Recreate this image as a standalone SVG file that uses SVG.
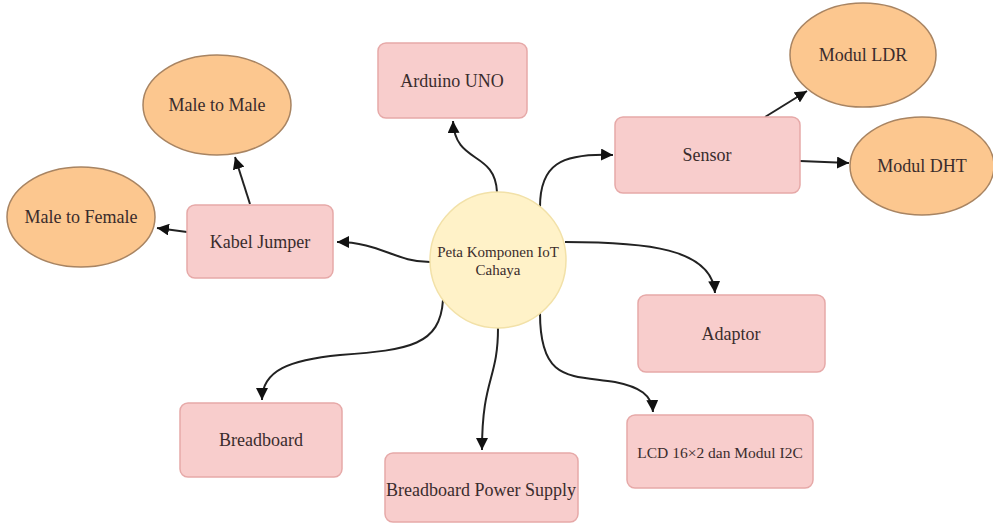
<svg xmlns="http://www.w3.org/2000/svg" width="993" height="527" viewBox="0 0 993 527">
<style>
.box{fill:#f8cdcc;stroke:#e6a9a8;stroke-width:1.5}
.ell{fill:#fcc78f;stroke:#a88462;stroke-width:1.5}
.hub{fill:#fff2c8;stroke:#f2e1a8;stroke-width:1.5}
.t{font-family:"Liberation Serif","Times New Roman",serif;font-size:18px;fill:#3a2c2c;text-anchor:middle;dominant-baseline:central}
.c{fill:none;stroke:#222;stroke-width:2;marker-end:url(#ah)}
</style>
<defs>
<marker id="ah" markerUnits="userSpaceOnUse" markerWidth="12" markerHeight="12" refX="10" refY="5" orient="auto" viewBox="0 0 10 10">
<path d="M0,0 L10,5 L0,10 z" fill="#111"/>
</marker>
</defs>
<rect width="993" height="527" fill="#ffffff"/>
<g id="connectors">
<path class="c" d="M497,192 C495,150 455,165 453,121"/>
<path class="c" d="M540,207 C540,165 560,153 613,155"/>
<path class="c" d="M430,262 C395,262 380,242 337,242"/>
<path class="c" d="M565,242 C645,242 712,248 715,293"/>
<path class="c" d="M540,313 C540,382 570,375 615,382 C640,387 652,395 653,412"/>
<path class="c" d="M498,328 C498,380 482,378 482,450"/>
<path class="c" d="M443,300 C440,345 410,350 340,355 C290,360 262,370 262,400"/>
<path class="c" d="M250,204 L235,157"/>
<path class="c" d="M187,232 L157,228"/>
<path class="c" d="M765,117 L807,91"/>
<path class="c" d="M800,161 L849,163"/>
</g>
<g id="hub">
<circle class="hub" cx="498" cy="260" r="68"/>
<text class="t" style="font-size:15px" x="498" y="252">Peta Komponen IoT</text>
<text class="t" style="font-size:15px" x="498" y="270">Cahaya</text>
</g>
<g id="arduino">
<rect class="box" x="378" y="43" width="149" height="75" rx="8"/>
<text class="t" x="452" y="81">Arduino UNO</text>
</g>
<g id="sensor">
<rect class="box" x="615" y="117" width="185" height="76" rx="8"/>
<text class="t" x="707" y="155">Sensor</text>
</g>
<g id="modul-ldr">
<ellipse class="ell" cx="863" cy="55" rx="73" ry="52"/>
<text class="t" x="863" y="55">Modul LDR</text>
</g>
<g id="modul-dht">
<ellipse class="ell" cx="922" cy="166" rx="72" ry="49"/>
<text class="t" x="922" y="166">Modul DHT</text>
</g>
<g id="kabel-jumper">
<rect class="box" x="187" y="205" width="146" height="73" rx="8"/>
<text class="t" x="260" y="242">Kabel Jumper</text>
</g>
<g id="male-to-male">
<ellipse class="ell" cx="217" cy="105" rx="74" ry="50"/>
<text class="t" x="217" y="105">Male to Male</text>
</g>
<g id="male-to-female">
<ellipse class="ell" cx="81" cy="217" rx="74" ry="50"/>
<text class="t" x="81" y="217">Male to Female</text>
</g>
<g id="adaptor">
<rect class="box" x="638" y="295" width="187" height="77" rx="8"/>
<text class="t" x="731" y="334">Adaptor</text>
</g>
<g id="lcd">
<rect class="box" x="627" y="415" width="186" height="73" rx="8"/>
<text class="t" style="font-size:15.5px" x="720" y="452">LCD 16×2 dan Modul I2C</text>
</g>
<g id="breadboard">
<rect class="box" x="180" y="403" width="162" height="74" rx="8"/>
<text class="t" x="261" y="440">Breadboard</text>
</g>
<g id="breadboard-power-supply">
<rect class="box" x="385" y="453" width="193" height="69" rx="8"/>
<text class="t" x="481" y="490">Breadboard Power Supply</text>
</g>
</svg>
